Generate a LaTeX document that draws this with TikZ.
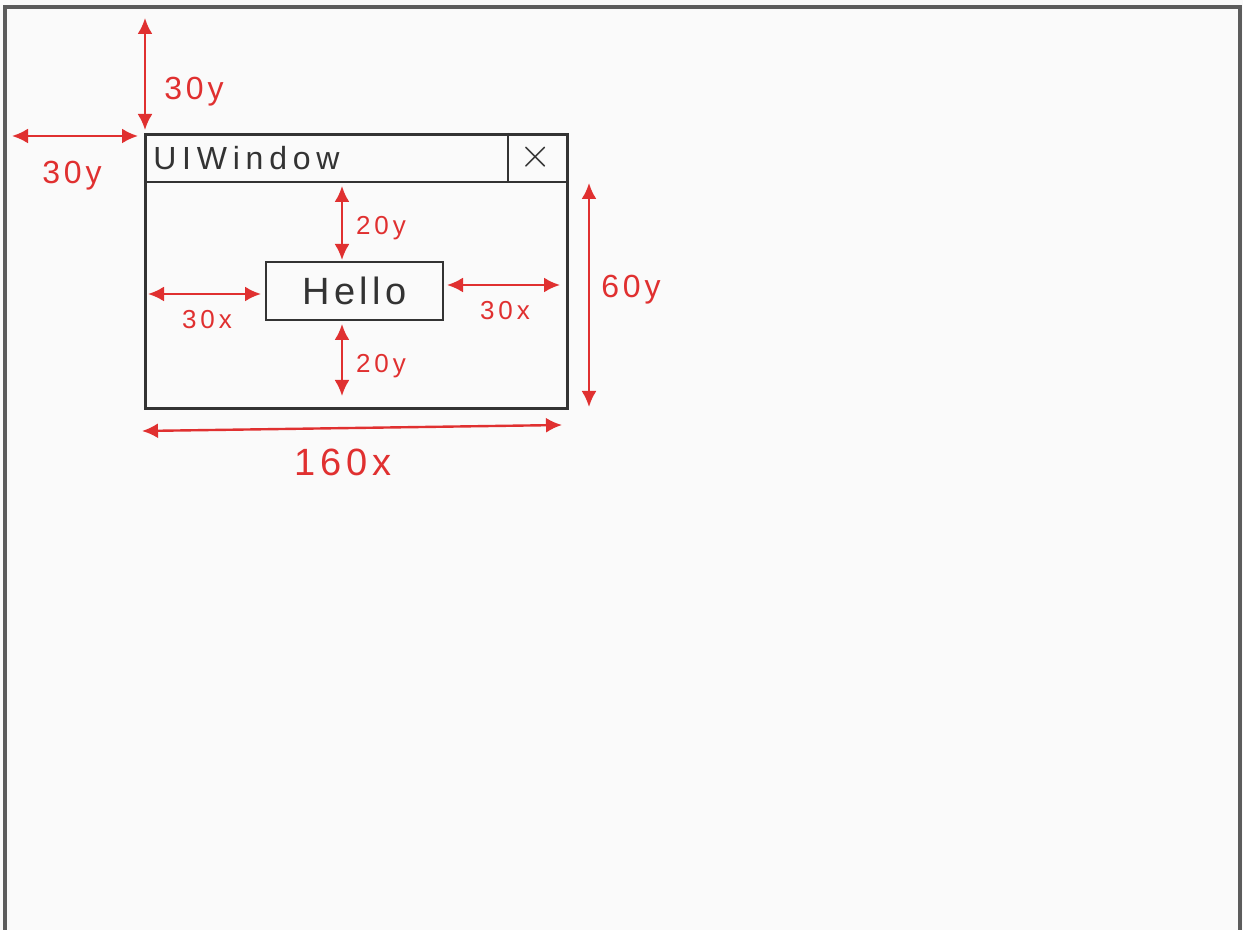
\documentclass[tikz,border=0pt]{standalone}
\usepackage{fontspec}
\setmainfont{Liberation Sans}
\usetikzlibrary{arrows.meta}
\definecolor{dimred}{HTML}{E03030}
\definecolor{ink}{HTML}{333333}
\tikzset{
  frameline/.style={draw=ink!80, line width=1.6pt},
  boxline/.style={draw=ink, line width=1.3pt},
  dimarrow/.style={draw=dimred, line width=1.2pt, {Latex[length=8pt,width=7.5pt]}-{Latex[length=8pt,width=7.5pt]}},
  dimlabel/.style={text=dimred, font=\fontsize{16}{16}\selectfont\addfontfeatures{LetterSpace=12}, inner sep=0pt},
  smalllabel/.style={text=dimred, font=\fontsize{13}{13}\selectfont\addfontfeatures{LetterSpace=15}, inner sep=0pt},
}
\begin{document}
\begin{tikzpicture}[x=0.5pt,y=-0.5pt]
\useasboundingbox (0,0) rectangle (1243,930);
\fill[white!98!black] (0,0) rectangle (1243,930);
% outer frame
\coordinate (fbl) at (5,930);
\coordinate (ftl) at (5,7);
\coordinate (ftr) at (1240,7);
\coordinate (fbr) at (1240,930);
\draw[frameline] (fbl) -- (ftl) -- (ftr) -- (fbr);
% window
\node[boxline, rectangle, minimum width=211pt, minimum height=137pt, anchor=north west, inner sep=0pt] (win) at (144,133) {};
\coordinate (titleL) at (144,182);
\coordinate (titleR) at (566,182);
\draw[boxline] (titleL) -- (titleR);
\coordinate (closeT) at (508,133);
\coordinate (closeB) at (508,182);
\draw[boxline] (closeT) -- (closeB);
\node[font=\fontsize{16}{16}\selectfont\addfontfeatures{LetterSpace=18}, text=ink, anchor=west, inner sep=0pt] (title) at (153,158) {UIWindow};
\node[font=\fontsize{22}{22}\selectfont, text=ink, inner sep=0pt] (close) at (536,157) {$\times$};
% hello box
\node[boxline, rectangle, minimum width=88.5pt, minimum height=29pt, inner sep=0pt, font=\fontsize{19}{19}\selectfont\addfontfeatures{LetterSpace=12}, text=ink] (hello) at (354.5,291) {Hello};
% coordinates for dimension arrows
\coordinate (a1s) at (145,18);  \coordinate (a1e) at (145,130);
\coordinate (a2s) at (12,136);  \coordinate (a2e) at (138,136);
\coordinate (a3s) at (342,186); \coordinate (a3e) at (342,260);
\coordinate (a4s) at (342,324); \coordinate (a4e) at (342,396);
\coordinate (a5s) at (148,294); \coordinate (a5e) at (261,294);
\coordinate (a6s) at (447,285); \coordinate (a6e) at (560,285);
\coordinate (a7s) at (589,183); \coordinate (a7e) at (589,407);
\coordinate (a8s) at (142,431); \coordinate (a8e) at (562,425);
\draw[dimarrow] (a1s) -- (a1e);
\draw[dimarrow] (a2s) -- (a2e);
\draw[dimarrow] (a3s) -- (a3e);
\draw[dimarrow] (a4s) -- (a4e);
\draw[dimarrow] (a5s) -- (a5e);
\draw[dimarrow] (a6s) -- (a6e);
\draw[dimarrow] (a7s) -- (a7e);
\draw[dimarrow] (a8s) -- (a8e);
% labels
\node[dimlabel] (l1) at (194,92) {30y};
\node[dimlabel] (l2) at (72,176) {30y};
\node[smalllabel] (l3) at (381,228) {20y};
\node[smalllabel] (l4) at (381,366) {20y};
\node[smalllabel] (l5) at (207,320) {30x};
\node[smalllabel] (l6) at (505,311) {30x};
\node[dimlabel] (l7) at (631,290) {60y};
\node[dimlabel, font=\fontsize{19}{19}\selectfont\addfontfeatures{LetterSpace=12}] (l8) at (343,462) {160x};
\end{tikzpicture}
\end{document}
